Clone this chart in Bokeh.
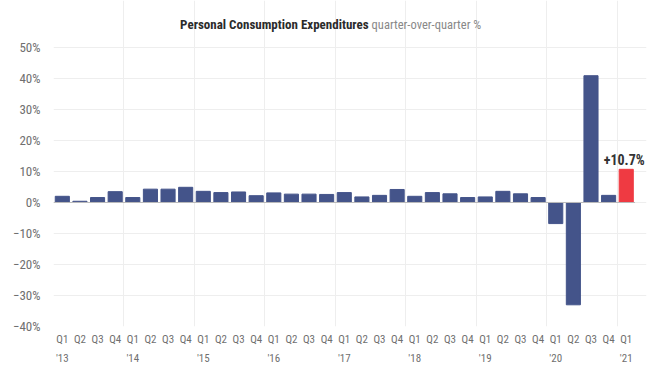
from bokeh.plotting import figure
from bokeh.models import FixedTicker, Label, LinearAxis, Range1d
from bokeh.embed import file_html
from bokeh.resources import INLINE

quarters = ["Q1", "Q2", "Q3", "Q4"] * 8 + ["Q1"]
years = ["'13", "'14", "'15", "'16", "'17", "'18", "'19", "'20", "'21"]
values = [2.0, 0.4, 1.6, 3.5, 1.6, 4.3, 4.3, 4.9, 3.6, 3.2, 3.4, 2.2,
          3.1, 2.7, 2.7, 2.6, 3.2, 1.8, 2.3, 4.2, 2.0, 3.2, 2.8, 1.6,
          1.8, 3.6, 2.8, 1.6, -6.8, -33.0, 40.9, 2.3, 10.7]
y_ticks = [-40, -30, -20, -10, 0, 10, 20, 30, 40, 50]
title_main = "Personal Consumption Expenditures"
title_sub = "quarter-over-quarter %"
highlight_label = "+10.7%"

FONT = "'Roboto Condensed', 'DejaVu Sans Condensed', 'Liberation Sans Narrow', Roboto, sans-serif"
n = len(values)
xs = list(range(n))
colors = ["#44548a"] * (n - 1) + ["#ef3a42"]

# frame spans the title area too; grids are bounded to the data area
p = figure(width=649, height=368, output_backend="svg", toolbar_location=None,
           x_range=Range1d(-0.5, 33.15), y_range=Range1d(-40, 65.16),
           min_border_left=53, min_border_right=3, min_border_top=0, min_border_bottom=42,
           x_axis_location=None)
p.outline_line_color = None
p.background_fill_color = "white"

p.ygrid.ticker = FixedTicker(ticks=y_ticks)
p.ygrid.grid_line_color = "#eeeeee"
p.ygrid.bounds = (-0.5, n - 0.5)
p.xgrid.ticker = FixedTicker(ticks=[i - 0.5 for i in range(0, n, 4)])
p.xgrid.grid_line_color = "#eeeeee"
p.xgrid.bounds = (-40, 50)

p.vbar(x=xs, top=values, bottom=0, width=0.8, fill_color=colors, line_color=colors)
p.segment(x0=[-0.5], y0=[0], x1=[n - 0.5], y1=[0], line_color="#bbbbbb", line_width=1)

# y axis
p.yaxis.ticker = FixedTicker(ticks=y_ticks)
p.yaxis.bounds = (-40, 50)
p.yaxis.major_label_overrides = {t: (f"{t}%" if t >= 0 else f"\u2212{abs(t)}%") for t in y_ticks}
p.yaxis.axis_line_color = None
p.yaxis.major_tick_line_color = None
p.yaxis.minor_tick_line_color = None
p.yaxis.major_tick_out = 0
p.yaxis.major_tick_in = 0
p.yaxis.major_label_standoff = 13
p.yaxis.major_label_text_font = FONT
p.yaxis.major_label_text_font_size = "13px"
p.yaxis.major_label_text_color = "#6f6f6f"

# x axes: quarters and years
ax_q = LinearAxis(ticker=FixedTicker(ticks=xs),
                  major_label_overrides={i: q for i, q in enumerate(quarters)})
ax_y = LinearAxis(ticker=FixedTicker(ticks=list(range(0, n, 4))),
                  major_label_overrides={i * 4: y for i, y in enumerate(years)})
for ax, st in ((ax_q, 6), (ax_y, 3)):
    ax.axis_line_color = None
    ax.major_tick_line_color = None
    ax.minor_tick_line_color = None
    ax.major_tick_out = 0
    ax.major_tick_in = 0
    ax.major_label_standoff = st
    ax.major_label_text_font = FONT
    ax.major_label_text_font_size = "11px"
    ax.major_label_text_color = "#6f6f6f"
p.add_layout(ax_q, "below")
p.add_layout(ax_y, "below")

# highlight label
p.add_layout(Label(x=n - 1, y=values[-1], text=highlight_label, text_align="center",
                   text_baseline="bottom", x_offset=-2, y_offset=1, text_font=FONT,
                   text_font_size="14px", text_font_style="bold", text_color="#333333"))

# title (two-tone)
p.add_layout(Label(x=17.38, y=57.4, text=title_main, text_align="right", text_baseline="middle",
                   text_font=FONT, text_font_size="13px", text_font_style="bold",
                   text_color="#2b2b2b"))
p.add_layout(Label(x=17.38, y=57.4, x_offset=3, text=title_sub, text_align="left",
                   text_baseline="middle", text_font=FONT, text_font_size="12.5px",
                   text_color="#888888"))

open("out.html", "w").write(file_html(p, INLINE))
